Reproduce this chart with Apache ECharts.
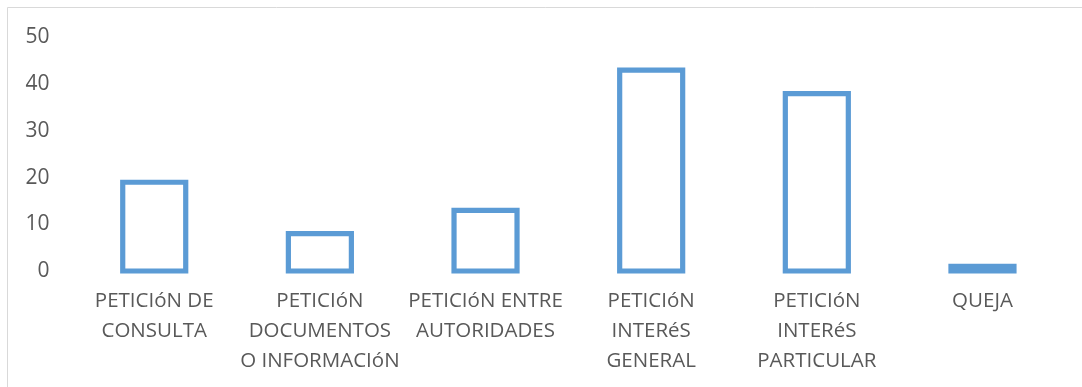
<!DOCTYPE html>
<html>
<head>
<meta charset="utf-8">
<script src="https://cdn.jsdelivr.net/npm/echarts@6/dist/echarts.min.js"></script>
<style>
  html, body { margin: 0; padding: 0; background: #ffffff; }
  #chart { width: 1082px; height: 387px; }
</style>
</head>
<body>
<div id="chart"></div>
<script>
// Request categories (axis labels, wrapped onto lines as shown)
const categories = [
  'PETICIóN DE\nCONSULTA',
  'PETICIóN\nDOCUMENTOS\nO INFORMACIóN',
  'PETICIóN ENTRE\nAUTORIDADES',
  'PETICIóN\nINTERéS\nGENERAL',
  'PETICIóN\nINTERéS\nPARTICULAR',
  'QUEJA'
];
// Number of requests per category
const counts = [19, 8, 13, 43, 38, 1];
// Value axis ticks
const yTicks = [0, 10, 20, 30, 40, 50];

const blue = '#5b9bd5';
const textColor = '#595959';
const fontFamily = '"Open Sans", "Liberation Sans", sans-serif';
const barWidth = 63;
const outlineWidth = 5.2;

const chart = echarts.init(document.getElementById('chart'), null, { renderer: 'canvas' });

// Outlined column: rectangle from the baseline to the value, stroke centred on its edges
function renderColumn(params, api) {
  const top = api.coord([api.value(0), api.value(1)]);
  const base = api.coord([api.value(0), 0]);
  return {
    type: 'rect',
    shape: {
      x: top[0] - barWidth / 2,
      y: top[1],
      width: barWidth,
      height: base[1] - top[1]
    },
    style: {
      fill: '#ffffff',
      stroke: blue,
      lineWidth: outlineWidth
    }
  };
}

chart.setOption({
  animation: false,
  backgroundColor: '#ffffff',
  graphic: [{
    type: 'rect',
    shape: { x: 7.5, y: 7.5, width: 1200, height: 500 },
    style: { fill: 'none', stroke: '#d9d9d9', lineWidth: 1 },
    silent: true,
    z: -1
  }],
  grid: { left: 71.4, right: 16.7, top: 37.5, bottom: 116, containLabel: false },
  xAxis: {
    type: 'category',
    data: categories,
    axisLine: { show: false },
    axisTick: { show: false },
    axisLabel: {
      color: textColor,
      fontFamily: fontFamily,
      fontSize: 20.5,
      lineHeight: 30,
      margin: 15.5,
      interval: 0
    }
  },
  yAxis: {
    type: 'value',
    min: yTicks[0],
    max: yTicks[yTicks.length - 1],
    interval: yTicks[1] - yTicks[0],
    splitLine: { show: false },
    axisLine: { show: false },
    axisTick: { show: false },
    axisLabel: {
      color: textColor,
      fontFamily: fontFamily,
      fontSize: 21,
      margin: 22,
      padding: [4, 0, 0, 0]
    }
  },
  series: [{
    type: 'custom',
    renderItem: renderColumn,
    encode: { x: 0, y: 1 },
    data: counts.map((v, i) => [i, v])
  }]
});
</script>
</body>
</html>
